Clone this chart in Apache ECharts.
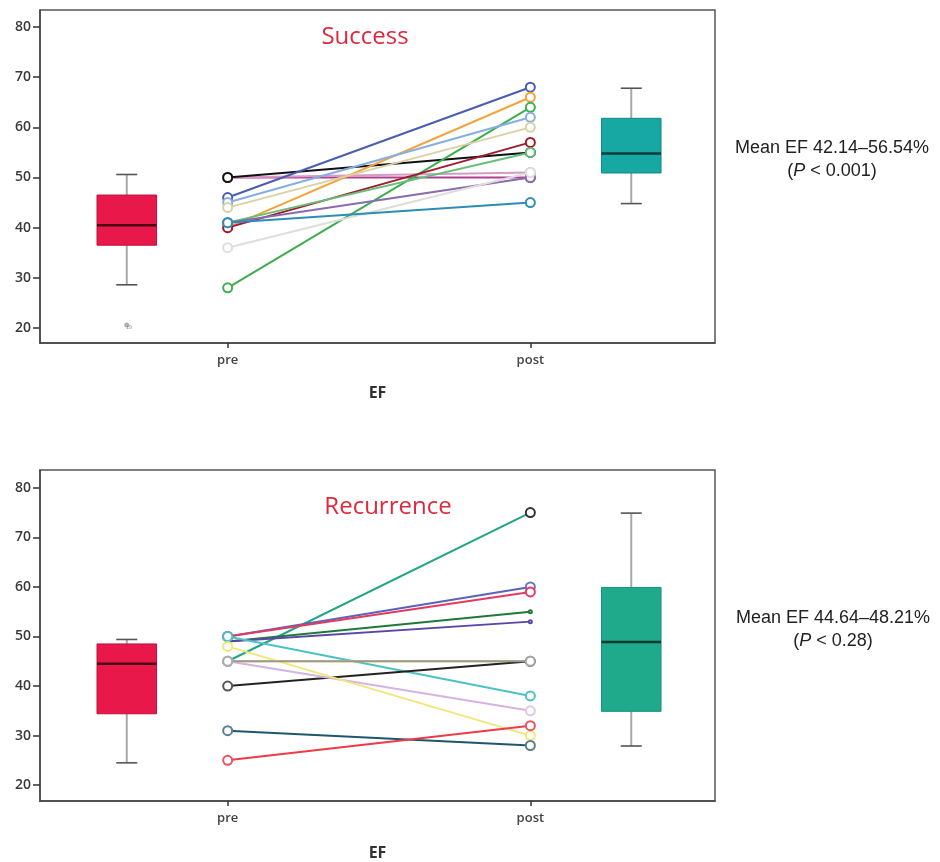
<!DOCTYPE html>
<html>
<head>
<meta charset="utf-8">
<script src="https://cdn.jsdelivr.net/npm/echarts@6/dist/echarts.min.js"></script>
<style>html,body{margin:0;padding:0;background:#fff}#c{width:940px;height:862px}</style>
</head>
<body>
<div id="c"></div>
<script>
// ---- data ----
const xPos = { boxPre: 0.86, pre: 1.86, post: 4.86, boxPost: 5.86 };
const xTickLabels = ['pre', 'post'];
const yTicks = [20, 30, 40, 50, 60, 70, 80];

const successPre  = [50, 50, 50, 46, 40, 28, 45, 44, 40, 41, 41, 36, 41];
const successPost = [50, 51, 55, 68, 66, 64, 62, 60, 57, 55, 50, 51, 45];
const successColors = ['#b0408e', '#d79ac6', '#111111', '#4a5db0', '#f3a33a', '#3dae4f', '#86aee0', '#d9d2a6', '#a3192d', '#66c07a', '#8a6bb0', '#dedede', '#2e8db4'];

const recurPre  = [45, 50, 50, 49, 49, 50, 45, 40, 45, 48, 31, 25, 45];
const recurPost = [75, 60, 59, 55, 53, 38, 45, 45, 35, 30, 28, 32, 45];
const recurColors = ['#22a585', '#5a64b8', '#e33a62', '#1f7a3a', '#5846a8', '#4cc2c4', '#f2d21c', '#222222', '#d4b4e2', '#f2e67a', '#1e5670', '#f03a48', '#999999'];
const recurMarkerColors = ['#333333', '#6a74c8', '#e33a62', '#1f7a3a', '#5846a8', '#4cc2c4', '#c8c080', '#555555', '#e0c8ea', '#f2e67a', '#56808f', '#f05060', '#aaaaaa'];
const recurMarkerSizes = [9, 9, 9, 3, 3, 9, 9, 9, 9, 9, 9, 9, 9];

// box stats: [low whisker, Q1, median, Q3, high whisker]
const successBoxPre  = [28.6, 36.5, 40.5, 46.5, 50.6];
const successBoxPost = [44.8, 50.9, 54.8, 61.8, 67.8];
const successOutlier = [20.6];
const successOutlierLabel = ['19'];
const recurBoxPre  = [24.5, 34.4, 44.5, 48.5, 49.4];
const recurBoxPost = [27.9, 34.9, 48.9, 59.9, 74.9];

const titles = ['Success', 'Recurrence'];
const notes = [['Mean EF 42.14–56.54%', '0.001'], ['Mean EF 44.64–48.21%', '0.28']];

// ---- chart ----
const chart = echarts.init(document.getElementById('c'), null, { renderer: 'canvas' });

function boxRenderer(fill, stroke, medColor) {
  return function (params, api) {
    const x = api.value(0);
    const lo = api.coord([x, api.value(1)]);
    const q1 = api.coord([x, api.value(2)]);
    const md = api.coord([x, api.value(3)]);
    const q3 = api.coord([x, api.value(4)]);
    const hi = api.coord([x, api.value(5)]);
    const hw = api.size([0.59, 0])[0] / 2;
    const cw = 10.5;
    const cx = lo[0];
    const wl = { stroke: '#a8a8a8', lineWidth: 2 };
    const cap = { stroke: '#555', lineWidth: 1.6 };
    return {
      type: 'group',
      children: [
        { type: 'line', shape: { x1: cx, y1: hi[1], x2: cx, y2: q3[1] }, style: wl },
        { type: 'line', shape: { x1: cx, y1: q1[1], x2: cx, y2: lo[1] }, style: wl },
        { type: 'line', shape: { x1: cx - cw, y1: hi[1], x2: cx + cw, y2: hi[1] }, style: cap },
        { type: 'line', shape: { x1: cx - cw, y1: lo[1], x2: cx + cw, y2: lo[1] }, style: cap },
        { type: 'rect', shape: { x: cx - hw, y: q3[1], width: hw * 2, height: q1[1] - q3[1] }, style: { fill: fill, stroke: stroke, lineWidth: 1 } },
        { type: 'line', shape: { x1: cx - hw, y1: md[1], x2: cx + hw, y2: md[1] }, style: { stroke: medColor, lineWidth: 2.5 } }
      ]
    };
  };
}

function xAxisCfg(gi, gap) {
  return {
    gridIndex: gi, type: 'value', min: 0, max: 6.69,
    axisLine: { show: true, onZero: false, lineStyle: { color: '#444', width: 1.5 } },
    axisTick: { show: true, customValues: [xPos.pre, xPos.post], length: 5, lineStyle: { color: '#333', width: 1.5 } },
    axisLabel: {
      customValues: [xPos.pre, xPos.post], color: '#444', fontSize: 13, margin: 11,
      fontFamily: 'Open Sans', fontWeight: 600,
      formatter: function (v) { return Math.abs(v - xPos.pre) < 0.01 ? xTickLabels[0] : xTickLabels[1]; }
    },
    splitLine: { show: false },
    name: 'EF', nameLocation: 'middle', nameGap: gap,
    nameTextStyle: { fontWeight: 'bold', fontSize: 16, color: '#333', fontFamily: 'Open Sans' }
  };
}
function yAxisCfg(gi, min, max) {
  return {
    gridIndex: gi, type: 'value', min: min, max: max,
    axisLine: { show: true, onZero: false, lineStyle: { color: '#444', width: 1.5 } },
    axisTick: { show: true, customValues: yTicks, length: 7, lineStyle: { color: '#333', width: 1.5 } },
    axisLabel: { customValues: yTicks, color: '#3a3a3a', fontSize: 14, margin: 9, fontFamily: 'Open Sans', fontWeight: 600 },
    splitLine: { show: false }
  };
}

const series = [];
series.push({
  type: 'custom', xAxisIndex: 0, yAxisIndex: 0, z: 1,
  renderItem: boxRenderer('#e8194a', '#c01040', '#4a0812'),
  data: [[xPos.boxPre].concat(successBoxPre)]
});
series.push({
  type: 'custom', xAxisIndex: 0, yAxisIndex: 0, z: 1,
  renderItem: boxRenderer('#17a8a3', '#108a86', '#0c3a3a'),
  data: [[xPos.boxPost].concat(successBoxPost)]
});
series.push({
  type: 'scatter', xAxisIndex: 0, yAxisIndex: 0, symbol: 'emptyCircle', symbolSize: 3,
  itemStyle: { color: '#999', borderWidth: 0.8 },
  label: { show: true, position: [2, 3], fontSize: 5, color: '#777', formatter: function (p) { return successOutlierLabel[p.dataIndex]; } },
  data: successOutlier.map(function (v) { return [xPos.boxPre, v]; })
});
series.push({
  type: 'custom', xAxisIndex: 1, yAxisIndex: 1, z: 1,
  renderItem: boxRenderer('#e8194a', '#c01040', '#4a0812'),
  data: [[xPos.boxPre].concat(recurBoxPre)]
});
series.push({
  type: 'custom', xAxisIndex: 1, yAxisIndex: 1, z: 1,
  renderItem: boxRenderer('#1eaa8b', '#16907a', '#0b3a2e'),
  data: [[xPos.boxPost].concat(recurBoxPost)]
});

successPre.forEach(function (v, i) {
  series.push({
    type: 'line', xAxisIndex: 0, yAxisIndex: 0, z: 3,
    symbol: 'emptyCircle', symbolSize: 9,
    lineStyle: { color: successColors[i], width: 2 },
    itemStyle: { color: successColors[i], borderWidth: 1.6 },
    data: [[xPos.pre, v], [xPos.post, successPost[i]]]
  });
});
recurPre.forEach(function (v, i) {
  series.push({
    type: 'line', xAxisIndex: 1, yAxisIndex: 1, z: 3,
    symbol: 'emptyCircle', symbolSize: recurMarkerSizes[i],
    lineStyle: { color: recurColors[i], width: 2 },
    itemStyle: { color: recurMarkerColors[i], borderWidth: 1.6 },
    data: [[xPos.pre, v], [xPos.post, recurPost[i]]]
  });
});

const noteFont = '18px "Liberation Sans"';
const graphic = [
  { type: 'text', x: 365, y: 37, style: { text: titles[0], fill: '#e0283c', font: '24px "Open Sans"', align: 'center', verticalAlign: 'middle' } },
  { type: 'text', x: 388, y: 507, style: { text: titles[1], fill: '#e0283c', font: '24px "Open Sans"', align: 'center', verticalAlign: 'middle' } },
  { type: 'text', x: 832, y: 148, style: { text: notes[0][0], fill: '#222', font: noteFont, align: 'center', verticalAlign: 'middle' } },
  { type: 'text', x: 832, y: 171, style: { text: '({i|P} < ' + notes[0][1] + ')', fill: '#222', font: noteFont, align: 'center', verticalAlign: 'middle', rich: { i: { fontStyle: 'italic', fontSize: 18, fontFamily: 'Liberation Sans' } } } },
  { type: 'text', x: 833, y: 618, style: { text: notes[1][0], fill: '#222', font: noteFont, align: 'center', verticalAlign: 'middle' } },
  { type: 'text', x: 833, y: 641, style: { text: '({i|P} < ' + notes[1][1] + ')', fill: '#222', font: noteFont, align: 'center', verticalAlign: 'middle', rich: { i: { fontStyle: 'italic', fontSize: 18, fontFamily: 'Liberation Sans' } } } }
];

chart.setOption({
  animation: false,
  backgroundColor: '#fff',
  grid: [
    { left: 40, top: 10, width: 675, height: 333, show: true, borderColor: '#555', borderWidth: 1.5, backgroundColor: '#fff' },
    { left: 40, top: 470, width: 675, height: 334, show: true, borderColor: '#555', borderWidth: 1.5, backgroundColor: '#fff' }
  ],
  xAxis: [xAxisCfg(0, 42), xAxisCfg(1, 44)],
  yAxis: [yAxisCfg(0, 17.0, 83.4), yAxisCfg(1, 16.8, 83.6)],
  series: series,
  graphic: graphic
});
</script>
</body>
</html>
